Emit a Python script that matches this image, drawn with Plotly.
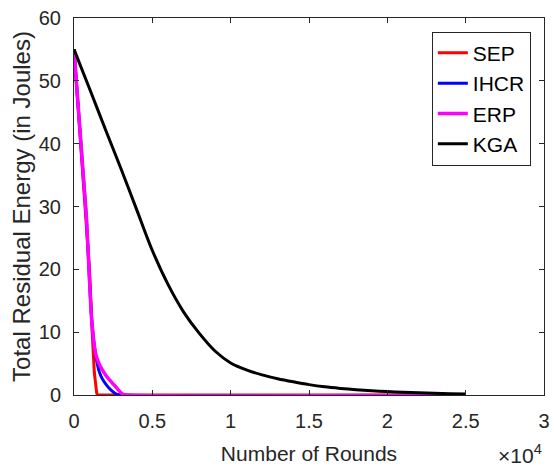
import plotly.graph_objects as go

# Total residual energy (J) against number of rounds for each protocol
sep_rounds = [0, 200, 400, 600, 800, 1000, 1150, 1300, 1450, 1500, 3000, 25000]
sep_energy = [55, 48.2, 41.5, 34.7, 27.9, 19.5, 10.5, 3.5, 0.3, 0, 0, 0]

ihcr_rounds = [0, 200, 400, 600, 800, 1000, 1150, 1300, 1450, 1600, 1800, 2100, 2400, 2700, 3000, 25000]
ihcr_energy = [55, 48.2, 41.5, 34.7, 27.9, 17.5, 11.5, 7.8, 5.4, 3.8, 2.6, 1.5, 0.7, 0.15, 0, 0]

erp_rounds = [0, 200, 400, 600, 800, 960, 1130, 1380, 1600, 1810, 2100, 2450, 2800, 3100, 3400, 25000]
erp_energy = [55, 48.2, 41.5, 34.7, 27.9, 19.9, 11.9, 6.6, 5.0, 4.0, 2.9, 1.9, 0.9, 0.15, 0, 0]

kga_rounds = [0, 1000, 2000, 3000, 4000, 5000, 6000, 7000, 8000, 9000, 10000, 11000,
              12000, 13000, 14000, 15000, 16000, 17000, 18000, 19000, 20000, 21000,
              22000, 23000, 24000, 25000]
kga_energy = [55, 48.7, 42.3, 36.0, 29.5, 23.0, 17.6, 13.2, 9.8, 7.0, 5.1, 4.0,
              3.2, 2.6, 2.1, 1.65, 1.3, 1.05, 0.85, 0.68, 0.55, 0.44,
              0.35, 0.27, 0.2, 0.15]

x_tick_vals = [0, 5000, 10000, 15000, 20000, 25000, 30000]
x_tick_text = ["0", "0.5", "1", "1.5", "2", "2.5", "3"]
y_tick_vals = [0, 10, 20, 30, 40, 50, 60]

series = [
    ("SEP", sep_rounds, sep_energy, "#ff0000", 3, "linear"),
    ("IHCR", ihcr_rounds, ihcr_energy, "#0000ff", 3, "spline"),
    ("ERP", erp_rounds, erp_energy, "#ff00ff", 3.5, "spline"),
    ("KGA", kga_rounds, kga_energy, "#000000", 3, "spline"),
]

FONT = "Liberation Sans, Arial, sans-serif"
TEXT = "#262626"

fig = go.Figure()
for name, xs, ys, color, w, shape in series:
    line = dict(color=color, width=w, shape=shape)
    if shape == "spline":
        line["smoothing"] = 0.8
    fig.add_trace(go.Scatter(x=xs, y=ys, mode="lines", name=name, line=line))

axis_common = dict(
    showline=True, linecolor="#262626", linewidth=1, mirror="ticks",
    ticks="inside", ticklen=5, tickcolor="#262626", tickwidth=1,
    showgrid=False, zeroline=False, automargin=False,
    tickfont=dict(family=FONT, size=20, color=TEXT),
)

fig.update_layout(
    width=554, height=468,
    margin=dict(l=74, r=10, t=18, b=73),
    paper_bgcolor="white", plot_bgcolor="white",
    font=dict(family=FONT, color=TEXT),
    xaxis=dict(range=[0, 30000], tickvals=x_tick_vals, ticktext=x_tick_text,
               title=dict(text="Number of Rounds", font=dict(family=FONT, size=21, color=TEXT),
                          standoff=15),
               ticklabelstandoff=8, **axis_common),
    yaxis=dict(range=[0, 60], tickvals=y_tick_vals,
               title=dict(text="Total Residual Energy (in Joules)",
                          font=dict(family=FONT, size=24, color=TEXT), standoff=1),
               ticklabelstandoff=8, **axis_common),
    legend=dict(x=0.972, y=0.9636, xanchor="right", yanchor="top",
                bgcolor="white", bordercolor="#262626", borderwidth=1,
                font=dict(family=FONT, size=21, color="#000000")),
    showlegend=True,
)

fig.add_annotation(text="×10<sup>4</sup>", xref="paper", yref="paper",
                   x=1.0, y=0, xanchor="right", yanchor="top", yshift=-44,
                   showarrow=False, font=dict(family=FONT, size=21, color=TEXT))

fig.write_html("out.html")
